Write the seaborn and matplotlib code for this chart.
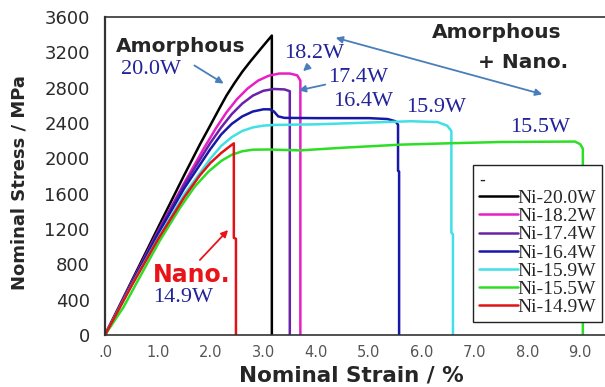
import numpy as np
import pandas as pd
import seaborn as sns
import matplotlib.pyplot as plt

# curves (strain %, stress MPa)
labels = ["Ni-20.0W", "Ni-18.2W", "Ni-17.4W", "Ni-16.4W", "Ni-15.9W", "Ni-15.5W", "Ni-14.9W"]
colors = ["#000000", "#e81fc4", "#6a22a8", "#1818a8", "#3fe0e6", "#2ede26", "#e01414"]

strain_200 = [0, 0.5, 1.0, 1.5, 1.8, 2.0, 2.18, 2.3, 2.45, 2.6, 2.75, 2.95, 3.16, 3.16]
stress_200 = [0, 605, 1210, 1810, 2160, 2380, 2580, 2710, 2850, 2980, 3095, 3240, 3390, 0]

strain_182 = [0, 0.5, 1.0, 1.5, 1.86, 2.1, 2.3, 2.5, 2.7, 2.9, 3.1, 3.3, 3.5, 3.64, 3.70, 3.70]
stress_182 = [0, 590, 1170, 1720, 2100, 2340, 2520, 2670, 2790, 2880, 2935, 2960, 2960, 2940, 2880, 0]

strain_174 = [0, 0.5, 1.0, 1.5, 1.99, 2.2, 2.4, 2.6, 2.8, 3.0, 3.2, 3.4, 3.5, 3.5]
stress_174 = [0, 585, 1160, 1700, 2170, 2350, 2500, 2620, 2710, 2765, 2785, 2780, 2760, 0]

strain_164 = [0, 0.5, 1.0, 1.5, 1.99, 2.2, 2.4, 2.6, 2.8, 3.0, 3.12, 3.2, 3.28, 3.4, 4.0, 5.0,
              5.35, 5.5, 5.55, 5.55, 5.57, 5.57]
stress_164 = [0, 575, 1140, 1660, 2100, 2270, 2390, 2475, 2530, 2555, 2555, 2530, 2475, 2458, 2455, 2455,
              2445, 2420, 2380, 1860, 1850, 0]

strain_159 = [0, 0.5, 1.0, 1.5, 2.0, 2.2, 2.4, 2.6, 2.8, 3.0, 3.2, 4.0, 5.0, 5.8, 6.3, 6.48,
              6.56, 6.56, 6.59, 6.59]
stress_159 = [0, 560, 1090, 1590, 2000, 2140, 2240, 2310, 2350, 2370, 2378, 2385, 2405, 2420, 2410, 2370,
              2310, 1160, 1140, 0]

strain_155 = [0, 0.35, 0.69, 1.04, 1.42, 1.7, 1.96, 2.2, 2.4, 2.6, 2.8, 3.1, 3.7, 4.5, 5.6, 6.5,
              7.5, 8.9, 9.0, 9.05, 9.05]
stress_155 = [0, 315, 690, 1070, 1440, 1680, 1850, 1970, 2040, 2080, 2098, 2100, 2090, 2120, 2155, 2170,
              2185, 2190, 2160, 2110, 0]

strain_149 = [0, 0.5, 1.0, 1.5, 1.8, 2.0, 2.2, 2.35, 2.44, 2.44, 2.48, 2.48]
stress_149 = [0, 555, 1080, 1560, 1810, 1950, 2060, 2130, 2170, 1100, 1090, 0]

curves = [(strain_200, stress_200), (strain_182, stress_182), (strain_174, stress_174),
          (strain_164, stress_164), (strain_159, stress_159), (strain_155, stress_155),
          (strain_149, stress_149)]

yticks = [0, 400, 800, 1200, 1600, 2000, 2400, 2800, 3200, 3600]
xticks = [0, 1, 2, 3, 4, 5, 6, 7, 8, 9]
xticklabels = [".0", "1.0", "2.0", "3.0", "4.0", "5.0", "6.0", "7.0", "8.0", "9.0"]

sns.set_theme(style="white")
plt.rcParams['font.family'] = ['DejaVu Sans']

fig = plt.figure(figsize=(6.05, 3.87), dpi=100)
ax = fig.add_axes([105 / 605, 52 / 387, 500 / 605, 318 / 387])

for (sx, sy), lab, col in zip(curves, labels, colors):
    df = pd.DataFrame({"strain": sx, "stress": sy})
    sns.lineplot(data=df, x="strain", y="stress", sort=False, estimator=None,
                 color=col, lw=1.8, label=lab, ax=ax)

ax.set_xlim(0, 500 / 52.8)
ax.set_ylim(0, 3600)
ax.set_yticks(yticks)
ax.set_xticks(xticks)
ax.set_xticklabels(xticklabels)
ax.set_xticks(np.arange(0, 9.5, 0.2), minor=True)
ax.tick_params(axis="y", direction="in", length=8, width=1.2, pad=11, labelsize=13,
               color="#333333", labelcolor="#2a2a2a")
ax.tick_params(axis="x", which="major", direction="in", length=6.5, width=1.2, pad=7,
               labelsize=10.5, labelcolor="#555555")
ax.tick_params(axis="x", which="minor", direction="in", length=3.5, width=1.0)
ax.spines["right"].set_visible(False)
for s in ["left", "bottom", "top"]:
    ax.spines[s].set_color("#333333")
ax.spines["left"].set_linewidth(1.6)
ax.spines["bottom"].set_linewidth(1.2)
ax.spines["top"].set_linewidth(1.2)

ax.set_xlabel("Nominal Strain / %", fontsize=15.5, fontweight="bold")
ax.set_ylabel("Nominal Stress / MPa", fontsize=13, fontweight="bold")
ax.xaxis.set_label_coords(0.493, -0.095)
ax.yaxis.set_label_coords(-0.152, 0.48)

leg = ax.legend(loc="lower left", bbox_to_anchor=(0.736, 0.041), title="-",
                prop={"family": "Liberation Serif", "size": 14},
                frameon=True, fancybox=False, edgecolor="#222222", framealpha=1,
                handlelength=2.0, handletextpad=0.0, labelspacing=0.03,
                borderpad=0.3, borderaxespad=0)
leg.get_title().set_fontsize(12)
leg._legend_box.align = "left"
leg.get_frame().set_linewidth(1.0)

blue = "#23239a"
arrow_c = "#4a7ebb"
serif = "Liberation Serif"


def px(x, y):
    # pixel position in the reference -> data coords
    return ((x - 105) / 52.8, (335 - y) / 318 * 3600)


ax.text(*px(181, 46), "Amorphous", fontsize=14.5, fontweight="bold", ha="center", va="center")
ax.text(*px(497, 33), "Amorphous", fontsize=14.5, fontweight="bold", ha="center", va="center")
ax.text(*px(523, 62), "+ Nano.", fontsize=14.5, fontweight="bold", ha="center", va="center")
ax.text(*px(192, 275), "Nano.", fontsize=17, fontweight="bold", ha="center", va="center", color="#e8141a")

for x, y, t in [(151, 70, "20.0W"), (314, 53, "18.2W"), (358, 78, "17.4W"),
                (363, 102, "16.4W"), (436, 108, "15.9W"), (540, 128, "15.5W"),
                (183, 297, "14.9W")]:
    ax.text(*px(x, y), t, fontsize=16, family=serif, color=blue, ha="center", va="center")


def arrow(p0, p1, col, style="-|>"):
    ax.annotate("", xy=px(*p1), xytext=px(*p0),
                arrowprops=dict(arrowstyle=style, color=col, lw=1.3, mutation_scale=10))


arrow((192, 64), (226, 85), arrow_c)
arrow((311, 64), (301, 73), arrow_c)
arrow((328, 84), (296, 91), arrow_c)
arrow((198, 262), (230, 228), "#e8141a")
arrow((333, 37), (545, 95), arrow_c, "<|-|>")

fig.savefig("out.png", dpi=100)
